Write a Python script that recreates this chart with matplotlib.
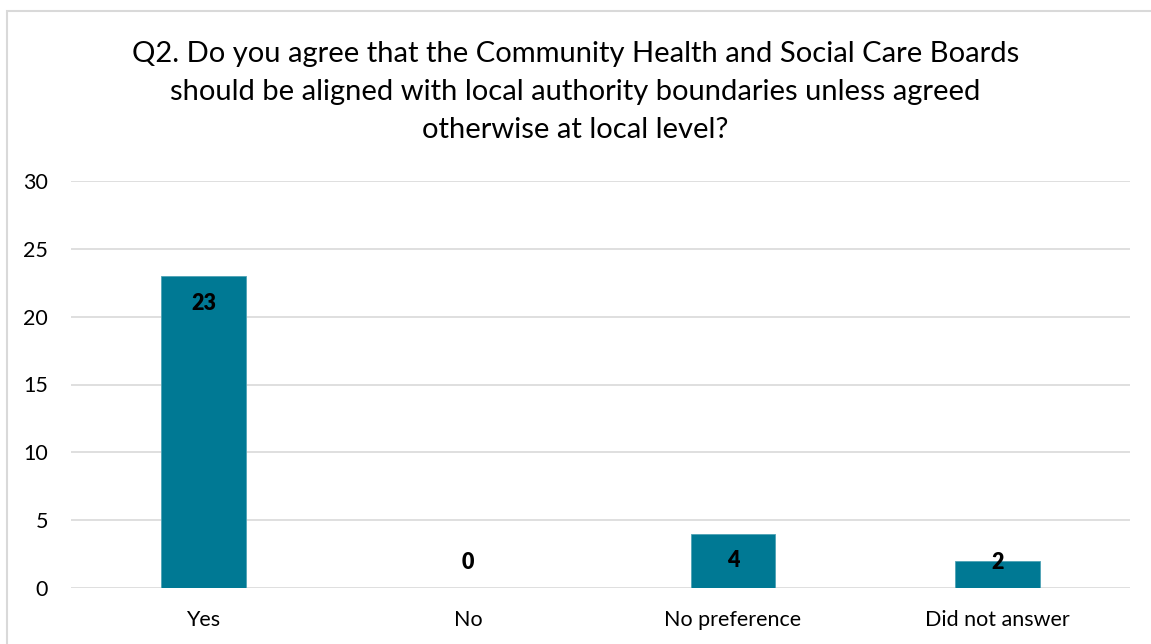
import matplotlib.pyplot as plt
from matplotlib.patches import Rectangle

categories = ['Yes', 'No', 'No preference', 'Did not answer']
counts = [23, 0, 4, 2]
y_ticks = [0, 5, 10, 15, 20, 25, 30]
title = ('Q2. Do you agree that the Community Health and Social Care Boards\n'
         'should be aligned with local authority boundaries unless agreed\n'
         'otherwise at local level?')

plt.rcParams['font.family'] = ['Lato', 'DejaVu Sans']

fig = plt.figure(figsize=(11.51, 6.44), dpi=100)
ax = fig.add_axes([71 / 1151, 1 - 588 / 644, (1130 - 71) / 1151, (588 - 181) / 644])

# outer chart frame (runs off the right and bottom edges)
fig.patches.append(Rectangle((7 / 1151, -0.05), 1.0, 1 - 10.5 / 644 + 0.05,
                             transform=fig.transFigure, fill=False,
                             edgecolor='#d9d9d9', linewidth=1.5))

x = range(len(categories))
ax.bar(x, counts, width=0.32, color='#007994', edgecolor='#4fa3b5',
       linewidth=0.6, zorder=3)

for xi, v in zip(x, counts):
    ax.text(xi, max(v - 2, 1.9), str(v), ha='center', va='center',
            fontsize=15.5, fontweight='heavy', color='black', zorder=4)

ax.set_xlim(-0.5, len(categories) - 0.5)
ax.set_ylim(0, 30)
ax.set_yticks(y_ticks)
ax.set_xticks(list(x))
ax.set_xticklabels(categories)
ax.tick_params(axis='both', length=0, labelsize=15.5, colors='black')
ax.tick_params(axis='y', pad=16.5)
ax.tick_params(axis='x', pad=16)
ax.grid(axis='y', color='#d9d9d9', linewidth=1.2, zorder=0)
for s in ax.spines.values():
    s.set_visible(False)

fig.text(0.5, 1 - 92 / 644, title, ha='center', va='center',
         fontsize=21, color='black', linespacing=1.55)

fig.savefig('out.png', dpi=100)
